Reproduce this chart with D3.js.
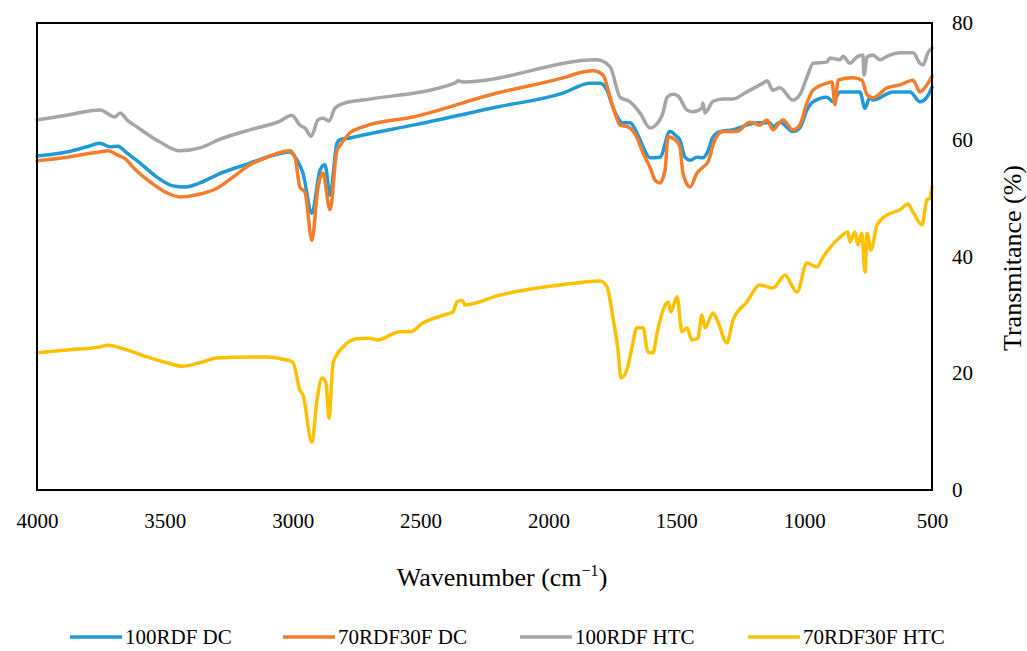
<!DOCTYPE html>
<html><head><meta charset="utf-8">
<script src="https://cdn.jsdelivr.net/npm/d3@7"></script>
<style>body{margin:0;background:#fff}svg{display:block}svg text{font-family:"Liberation Serif","Times New Roman",serif !important;fill:#000}</style>
</head><body>
<svg id="c" width="1027" height="651"></svg>
<script>
const seriesNames = ["100RDF DC","70RDF30F DC","100RDF HTC","70RDF30F HTC"];
const seriesColors = ["#1f9ad6","#f47d2c","#a5a5a5","#ffc000"];
const xTicks = [4000,3500,3000,2500,2000,1500,1000,500];
const yTicks = [0,20,40,60,80];

const rdf100DC = [[4000,57.2],[3883,57.9],[3804,58.8],[3754,59.4],[3715,58.8],[3683,58.9],[3648,57.7],[3597,56.0],[3531,53.6],[3468,52.1],[3421,51.9],[3363,52.6],[3296,54.0],[3167,56.0],[3101,57.0],[3011,57.9],[2983,56.5],[2960,54.3],[2925,47.4],[2893,54.8],[2874,55.7],[2854,50.5],[2827,59.4],[2815,60.0],[2776,60.3],[2725,60.8],[2530,62.5],[2201,65.6],[1943,68.0],[1837,69.7],[1798,69.7],[1771,68.5],[1748,65.6],[1708,62.9],[1681,62.9],[1654,61.2],[1630,58.8],[1603,56.9],[1564,57.0],[1525,61.4],[1497,60.5],[1486,60.0],[1466,57.0],[1446,56.5],[1419,57.0],[1396,56.9],[1380,57.7],[1356,60.5],[1329,61.4],[1278,61.7],[1224,62.5],[1184,62.9],[1134,62.9],[1122,62.2],[1095,63.0],[1044,61.4],[1017,62.0],[989,65.1],[965,66.5],[911,67.3],[887,66.5],[860,68.2],[782,68.2],[762,65.4],[743,67.3],[731,66.8],[653,68.2],[586,68.2],[547,66.5],[520,67.3],[500,69.0]];

const rdf70f30DC = [[4000,56.4],[3883,57.0],[3804,57.6],[3754,57.9],[3722,58.1],[3687,57.4],[3648,56.5],[3625,55.3],[3558,52.8],[3492,50.9],[3441,50.2],[3363,50.7],[3296,51.7],[3234,53.6],[3167,55.7],[3101,57.0],[3011,58.1],[2991,57.0],[2972,51.9],[2952,51.0],[2925,42.8],[2901,51.9],[2882,54.3],[2854,48.0],[2827,58.2],[2815,59.0],[2776,61.2],[2725,62.2],[2530,63.9],[2201,68.0],[1943,70.6],[1865,71.6],[1826,71.8],[1787,71.1],[1759,67.3],[1740,64.6],[1720,62.5],[1689,62.2],[1654,60.4],[1630,57.7],[1603,55.3],[1583,53.1],[1564,52.6],[1544,54.8],[1532,60.5],[1505,60.0],[1486,58.8],[1474,54.3],[1446,51.9],[1419,54.3],[1396,55.3],[1376,56.2],[1349,60.0],[1317,61.4],[1263,61.4],[1212,63.0],[1173,62.5],[1145,63.4],[1122,61.7],[1083,63.4],[1044,61.7],[1017,62.5],[989,66.3],[965,68.5],[911,69.7],[891,69.9],[879,66.0],[868,70.2],[809,70.6],[774,70.2],[754,67.7],[731,67.2],[676,68.9],[625,69.4],[574,70.2],[547,68.2],[520,69.4],[500,70.8]];

const rdf100HTC = [[4000,63.4],[3883,64.2],[3754,65.1],[3695,63.9],[3675,64.6],[3648,63.4],[3609,62.2],[3519,59.6],[3441,58.1],[3363,58.6],[3284,60.1],[3167,61.7],[3050,63.2],[3003,64.2],[2972,62.5],[2952,62.0],[2928,60.6],[2901,63.4],[2882,63.7],[2858,63.2],[2835,65.4],[2796,66.3],[2725,66.8],[2366,69.7],[2354,70.1],[2334,69.9],[1810,73.7],[1759,72.5],[1720,67.3],[1681,66.5],[1642,64.6],[1603,62.0],[1583,62.4],[1552,64.6],[1536,67.3],[1513,67.8],[1493,67.5],[1458,65.1],[1435,64.8],[1400,65.4],[1396,66.3],[1388,64.6],[1356,66.6],[1317,67.0],[1278,67.0],[1224,68.2],[1161,69.7],[1145,70.1],[1122,68.5],[1095,68.9],[1044,66.8],[1017,67.7],[989,70.7],[965,73.1],[911,73.3],[899,74.0],[860,73.7],[848,74.3],[821,73.1],[793,74.2],[770,74.5],[766,71.1],[754,74.2],[731,74.5],[703,73.7],[676,74.3],[625,74.9],[574,74.9],[547,73.1],[535,72.8],[516,74.9],[500,75.7]];

const rdf70f30HTC = [[4000,23.5],[3883,24.0],[3754,24.5],[3726,24.8],[3648,24.0],[3570,22.8],[3492,21.8],[3433,21.2],[3363,21.8],[3296,22.6],[3167,22.8],[3101,22.8],[3038,22.4],[2999,21.9],[2972,17.1],[2960,16.3],[2925,8.2],[2905,15.4],[2885,19.2],[2870,18.3],[2858,12.3],[2842,21.8],[2803,24.5],[2749,25.9],[2698,26.0],[2670,25.7],[2580,27.1],[2541,27.1],[2491,28.6],[2385,30.3],[2373,30.5],[2358,32.2],[2338,32.5],[2326,31.7],[2189,33.4],[1994,34.9],[1865,35.6],[1798,35.8],[1771,34.8],[1748,29.6],[1728,24.0],[1716,19.2],[1693,20.6],[1673,24.5],[1654,27.8],[1630,27.8],[1611,23.6],[1591,23.5],[1575,26.9],[1552,30.8],[1532,32.2],[1521,30.5],[1497,33.1],[1478,27.1],[1458,27.8],[1439,25.7],[1415,26.0],[1400,30.0],[1388,27.8],[1356,30.3],[1337,28.8],[1302,25.2],[1278,29.1],[1224,32.2],[1173,35.1],[1122,34.6],[1075,36.8],[1028,33.9],[989,38.9],[950,38.2],[926,39.9],[899,41.5],[860,43.3],[829,44.2],[821,42.5],[801,44.2],[790,42.0],[774,44.0],[762,37.3],[754,44.0],[739,41.1],[715,45.4],[676,47.1],[625,48.0],[594,49.0],[574,47.6],[539,45.4],[520,49.7],[508,50.0],[500,51.9]];

const allSeries = [rdf100DC, rdf70f30DC, rdf100HTC, rdf70f30HTC];

const svg = d3.select("#c");
const L = 37, R = 932, T = 23, B = 490;
const x = d3.scaleLinear().domain([4000,500]).range([L,R]);
const y = d3.scaleLinear().domain([0,80]).range([B,T]);

const line = d3.line().x(d=>x(d[0])).y(d=>y(d[1])).curve(d3.curveMonotoneX);

allSeries.forEach((s,i)=>{
  svg.append("path").datum(s).attr("d", line)
    .attr("fill","none").attr("stroke", seriesColors[i]).attr("stroke-width",3.5)
    .attr("stroke-linejoin","round").attr("stroke-linecap","round");
});

svg.append("rect").attr("x",L).attr("y",T).attr("width",R-L).attr("height",B-T)
  .attr("fill","none").attr("stroke","#000").attr("stroke-width",2);

const xa = svg.append("g").attr("transform",`translate(0,${B+38})`)
  .call(d3.axisBottom(x).tickValues(xTicks).tickSize(0).tickFormat(d3.format("d")));
xa.select(".domain").remove();
xa.attr("font-family",null);
xa.selectAll("text").style("font-size","21px").attr("dy","0").attr("y",0);

const ya = svg.append("g").attr("transform",`translate(${R+20},0)`)
  .call(d3.axisRight(y).tickValues(yTicks).tickSize(0));
ya.select(".domain").remove();
ya.attr("font-family",null);
ya.selectAll("text").style("font-size","21px").attr("x",0);

const xt = svg.append("text").attr("x",502).attr("y",586).attr("text-anchor","middle").style("font-size","26px");
xt.append("tspan").text("Wavenumber (cm");
xt.append("tspan").text("−1").style("font-size","16px").attr("dy",-10);
xt.append("tspan").text(")").attr("dy",10);

svg.append("text").attr("transform","translate(1021,258) rotate(-90)").attr("text-anchor","middle")
  .style("font-size","26px").text("Transmitance (%)");

const legX = [70,283,520,748];
seriesNames.forEach((n,i)=>{
  const g = svg.append("g").attr("transform",`translate(${legX[i]},637)`);
  g.append("line").attr("x1",0).attr("x2",52).attr("y1",0).attr("y2",0)
    .attr("stroke",seriesColors[i]).attr("stroke-width",3.5);
  g.append("text").attr("x",55).attr("y",7).style("font-size","21px").text(n);
});
</script>
</body></html>
